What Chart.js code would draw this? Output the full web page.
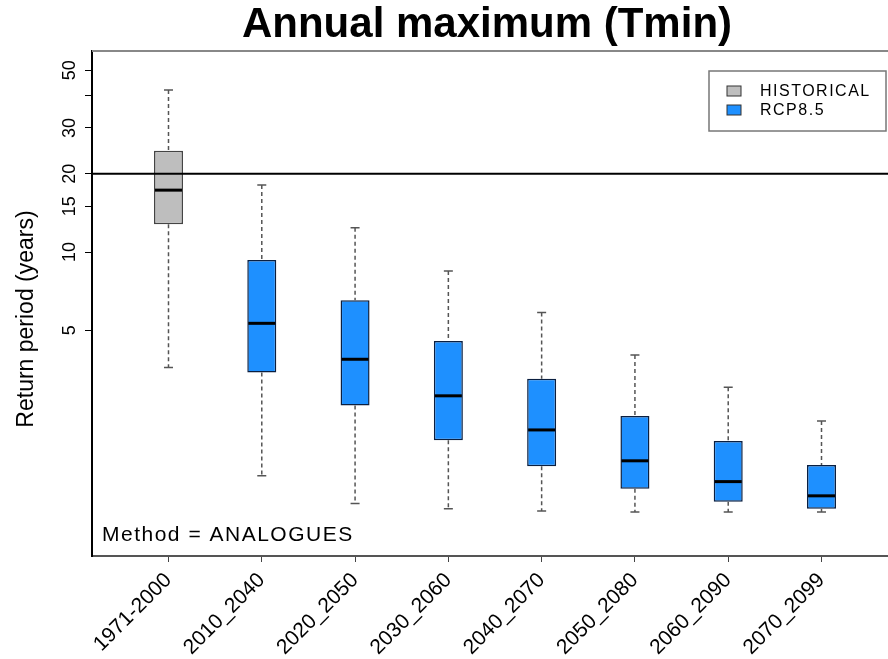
<!DOCTYPE html>
<html>
<head>
<meta charset="utf-8">
<script src="https://cdn.jsdelivr.net/npm/chart.js@4.4.1/dist/chart.umd.min.js"></script>
<style>
  body { margin: 0; overflow: hidden; background: #fff; }
  #wrap { width: 910px; height: 659px; }
</style>
</head>
<body>
<div id="wrap"><canvas id="chart" width="910" height="659"></canvas></div>
<script>
// data (return period, years)
const categories = ['1971-2000', '2010_2040', '2020_2050', '2030_2060', '2040_2070', '2050_2080', '2060_2090', '2070_2099'];
const whiskerLow = [3.60, 1.38, 1.08, 1.03, 1.01, 1.00, 1.00, 1.00];
const q1 = [12.8, 3.44, 2.57, 1.89, 1.50, 1.23, 1.095, 1.03];
const median = [17.3, 5.32, 3.87, 2.80, 2.07, 1.575, 1.31, 1.155];
const q3 = [24.5, 9.31, 6.53, 4.55, 3.26, 2.34, 1.875, 1.517];
const whiskerHigh = [42.0, 18.1, 12.4, 8.45, 5.86, 4.02, 3.02, 2.24];
const yTicks = [5, 10, 15, 20, 30, 40, 50];
const threshold = 20;

const FONT = "'Liberation Sans', Arial, sans-serif";
const histColor = '#BEBEBE';
const rcpColor = '#1E90FF';

// index 0 is the historical period, the rest are RCP8.5
const histData = [{ x: 1, y: [q1[0], q3[0]] }];
const rcpData = categories.slice(1).map((c, i) => ({ x: i + 2, y: [q1[i + 1], q3[i + 1]] }));

// whiskers, medians, reference line, legend and texts
const boxExtras = {
    id: 'boxExtras',
    afterDatasetsDraw(chart) {
        const { ctx, chartArea: area, scales: { x, y } } = chart;
        ctx.save();
        categories.forEach((c, i) => {
            const cx = x.getPixelForValue(i + 1);
            const half = 14.5;
            // dashed whiskers
            ctx.strokeStyle = '#555';
            ctx.lineWidth = 1.5;
            ctx.setLineDash([4, 3]);
            ctx.beginPath();
            ctx.moveTo(cx, y.getPixelForValue(whiskerHigh[i]));
            ctx.lineTo(cx, y.getPixelForValue(q3[i]));
            ctx.moveTo(cx, y.getPixelForValue(q1[i]));
            ctx.lineTo(cx, y.getPixelForValue(whiskerLow[i]));
            ctx.stroke();
            // caps
            ctx.setLineDash([]);
            ctx.beginPath();
            [whiskerHigh[i], whiskerLow[i]].forEach(v => {
                const py = y.getPixelForValue(v);
                ctx.moveTo(cx - 4.5, py);
                ctx.lineTo(cx + 4.5, py);
            });
            ctx.stroke();
            // median
            ctx.strokeStyle = '#000';
            ctx.lineWidth = 3;
            ctx.beginPath();
            const my = y.getPixelForValue(median[i]);
            ctx.moveTo(cx - half + 1, my);
            ctx.lineTo(cx + half - 1, my);
            ctx.stroke();
        });
        // 20-year reference line
        const ty = y.getPixelForValue(threshold);
        ctx.strokeStyle = '#000';
        ctx.lineWidth = 2;
        ctx.beginPath();
        ctx.moveTo(area.left, ty);
        ctx.lineTo(area.right, ty);
        ctx.stroke();
        // top frame line
        ctx.strokeStyle = '#888';
        ctx.lineWidth = 2;
        ctx.beginPath();
        ctx.moveTo(area.left, area.top);
        ctx.lineTo(area.right, area.top);
        ctx.stroke();
        ctx.restore();
    },
    afterDraw(chart) {
        const { ctx } = chart;
        ctx.save();
        ctx.fillStyle = '#000';
        // title
        ctx.font = `bold 42px ${FONT}`;
        ctx.textAlign = 'center';
        ctx.textBaseline = 'alphabetic';
        ctx.fillText('Annual maximum (Tmin)', 487, 37);
        // y axis title
        ctx.save();
        ctx.translate(27, 319);
        ctx.rotate(-Math.PI / 2);
        ctx.font = `23px ${FONT}`;
        ctx.textBaseline = 'middle';
        ctx.fillText('Return period (years)', 0, 0);
        ctx.restore();
        // method note
        ctx.letterSpacing = '1.5px';
        ctx.font = `21px ${FONT}`;
        ctx.textAlign = 'left';
        ctx.fillText('Method = ANALOGUES', 102, 541);
        // legend
        ctx.fillStyle = '#fff';
        ctx.fillRect(709, 71, 177, 60);
        ctx.strokeStyle = '#777';
        ctx.lineWidth = 1.5;
        ctx.strokeRect(709, 71, 177, 60);
        const items = [['HISTORICAL', histColor, 91], ['RCP8.5', rcpColor, 110]];
        ctx.font = `16px ${FONT}`;
        ctx.textBaseline = 'middle';
        items.forEach(([label, color, ly]) => {
            ctx.fillStyle = color;
            ctx.fillRect(727, ly - 5, 14, 10);
            ctx.strokeStyle = '#333';
            ctx.lineWidth = 1;
            ctx.strokeRect(727, ly - 5, 14, 10);
            ctx.fillStyle = '#000';
            ctx.fillText(label, 760, ly + 1);
        });
        ctx.restore();
    }
};

new Chart(document.getElementById('chart'), {
    type: 'bar',
    data: {
        datasets: [
            { label: 'HISTORICAL', data: histData, backgroundColor: histColor, borderColor: '#444' },
            { label: 'RCP8.5', data: rcpData, backgroundColor: rcpColor, borderColor: '#0a1f40' }
        ]
    },
    options: {
        responsive: false,
        animation: false,
        grouped: false,
        maxBarThickness: 29,
        borderWidth: 1.5,
        borderSkipped: false,
        layout: { padding: { top: 51, right: 12, left: 0, bottom: 0 } },
        plugins: {
            legend: { display: false },
            tooltip: { enabled: false },
            title: { display: false }
        },
        scales: {
            x: {
                type: 'linear',
                offset: false,
                min: 0.18,
                max: 8.82,
                afterBuildTicks: s => { s.ticks = categories.map((c, i) => ({ value: i + 1 })); },
                afterFit: s => { s.height = 103; },
                ticks: {
                    callback: (v, i) => categories[i],
                    minRotation: 45,
                    maxRotation: 45,
                    font: { family: FONT, size: 21 },
                    color: '#000',
                    padding: 6
                },
                grid: { offset: false, drawOnChartArea: false, drawTicks: true, tickLength: 6, color: '#444' },
                border: { display: true, color: '#555', width: 2 }
            },
            y: {
                type: 'logarithmic',
                min: 0.678,
                max: 59.3,
                afterBuildTicks: s => { s.ticks = yTicks.map(v => ({ value: v })); },
                afterFit: s => { s.width = 92; },
                ticks: {
                    callback: v => (v === 40 ? '' : String(v)),
                    minRotation: 90,
                    maxRotation: 90,
                    crossAlign: 'center',
                    font: { family: FONT, size: 18 },
                    color: '#000',
                    padding: 5
                },
                grid: { drawOnChartArea: false, drawTicks: true, tickLength: 7, color: '#000' },
                border: { display: true, color: '#000', width: 2 }
            }
        }
    },
    plugins: [boxExtras]
});
</script>
</body>
</html>
